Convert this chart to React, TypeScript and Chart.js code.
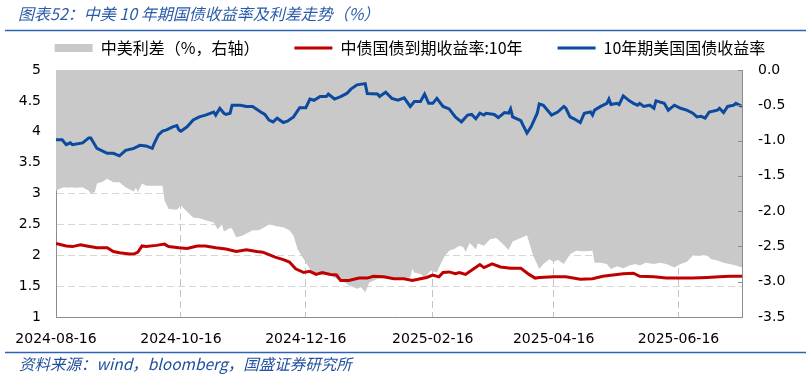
import { useEffect, useRef } from 'react';
import { Chart, registerables } from 'chart.js';

Chart.register(...registerables);

// x values are calendar days counted from 2024-08-16
const xTickDays = [0, 61, 122, 184, 243, 304];
const xTickLabels = ['2024-08-16', '2024-10-16', '2024-12-16', '2025-02-16', '2025-04-16', '2025-06-16'];
const X_MAX = 335;

const usDays = [0, 3, 5, 7, 8, 13, 16, 17, 20, 25, 28, 31, 34, 38, 41, 44, 47, 48, 50, 52, 54, 57, 59, 60, 61, 64, 67, 70, 73, 77, 78, 80, 82, 83, 85, 86, 90, 93, 96, 100, 102, 104, 106, 108, 111, 113, 116, 119, 122, 124, 126, 129, 132, 133, 136, 139, 142, 144, 147, 151, 152, 157, 158, 161, 164, 167, 170, 173, 175, 178, 180, 182, 184, 186, 189, 192, 195, 198, 201, 203, 205, 207, 209, 210, 214, 216, 219, 221, 222, 223, 227, 228, 230, 232, 235, 236, 238, 242, 245, 248, 249, 251, 253, 256, 258, 261, 262, 263, 266, 269, 270, 271, 274, 275, 277, 280, 282, 284, 285, 287, 290, 292, 293, 297, 299, 302, 305, 308, 311, 313, 315, 317, 319, 323, 324, 326, 328, 331, 332, 335];
const usYield = [3.87, 3.87, 3.79, 3.82, 3.79, 3.82, 3.90, 3.90, 3.73, 3.65, 3.65, 3.61, 3.70, 3.73, 3.78, 3.77, 3.73, 3.81, 3.95, 4.01, 4.03, 4.08, 4.10, 4.03, 4.01, 4.08, 4.19, 4.24, 4.27, 4.32, 4.27, 4.38, 4.30, 4.28, 4.30, 4.43, 4.43, 4.41, 4.41, 4.32, 4.28, 4.19, 4.16, 4.22, 4.15, 4.17, 4.24, 4.39, 4.39, 4.53, 4.51, 4.57, 4.57, 4.61, 4.53, 4.57, 4.62, 4.69, 4.76, 4.78, 4.62, 4.61, 4.57, 4.64, 4.54, 4.51, 4.55, 4.41, 4.49, 4.49, 4.61, 4.46, 4.46, 4.54, 4.41, 4.37, 4.24, 4.16, 4.27, 4.28, 4.21, 4.30, 4.27, 4.30, 4.28, 4.23, 4.31, 4.30, 4.37, 4.24, 4.18, 4.11, 3.98, 4.08, 4.30, 4.45, 4.43, 4.27, 4.32, 4.41, 4.38, 4.24, 4.21, 4.15, 4.30, 4.32, 4.27, 4.35, 4.41, 4.46, 4.53, 4.44, 4.46, 4.44, 4.58, 4.50, 4.46, 4.43, 4.46, 4.41, 4.43, 4.38, 4.50, 4.46, 4.35, 4.43, 4.38, 4.35, 4.30, 4.24, 4.25, 4.22, 4.32, 4.35, 4.38, 4.31, 4.41, 4.43, 4.46, 4.41];

const cnDays = [0, 5, 8, 12, 15, 20, 25, 28, 31, 36, 38, 40, 42, 44, 49, 53, 55, 60, 64, 69, 73, 78, 83, 88, 93, 98, 101, 104, 107, 111, 114, 117, 121, 124, 127, 130, 134, 137, 139, 143, 148, 152, 155, 160, 165, 170, 174, 178, 181, 184, 187, 189, 192, 195, 197, 200, 204, 207, 209, 213, 217, 222, 227, 231, 234, 236, 243, 249, 256, 262, 267, 272, 277, 282, 285, 292, 298, 305, 311, 318, 324, 329, 335];
const cnYield = [2.19, 2.15, 2.14, 2.17, 2.15, 2.12, 2.12, 2.06, 2.04, 2.02, 2.02, 2.05, 2.15, 2.14, 2.16, 2.18, 2.14, 2.12, 2.11, 2.15, 2.15, 2.12, 2.10, 2.06, 2.09, 2.06, 2.05, 2.01, 1.97, 1.93, 1.89, 1.78, 1.72, 1.74, 1.69, 1.72, 1.69, 1.68, 1.59, 1.59, 1.63, 1.63, 1.66, 1.65, 1.62, 1.62, 1.59, 1.62, 1.64, 1.68, 1.65, 1.72, 1.73, 1.70, 1.72, 1.69, 1.78, 1.85, 1.80, 1.86, 1.81, 1.79, 1.79, 1.69, 1.63, 1.64, 1.65, 1.65, 1.61, 1.62, 1.66, 1.68, 1.70, 1.71, 1.66, 1.65, 1.63, 1.63, 1.63, 1.64, 1.65, 1.66, 1.66];

const spreadDays = [0, 2, 4, 6, 7, 10, 13, 16, 17, 19, 20, 23, 25, 28, 31, 34, 38, 39, 40, 42, 44, 47, 52, 53, 55, 59, 61, 64, 67, 70, 73, 77, 79, 81, 82, 85, 86, 88, 91, 96, 99, 103, 104, 107, 111, 114, 116, 118, 121, 124, 127, 130, 134, 137, 140, 143, 147, 149, 151, 153, 157, 161, 166, 170, 173, 174, 175, 178, 180, 183, 186, 187, 190, 192, 195, 197, 199, 200, 202, 205, 206, 209, 212, 215, 218, 221, 223, 227, 230, 233, 236, 238, 241, 243, 245, 248, 251, 254, 258, 262, 263, 266, 269, 271, 274, 277, 280, 283, 285, 288, 292, 295, 298, 302, 305, 308, 311, 315, 318, 320, 323, 326, 329, 332, 335];
const spreadVals = [-1.71, -1.68, -1.66, -1.67, -1.66, -1.67, -1.66, -1.71, -1.75, -1.73, -1.61, -1.58, -1.54, -1.59, -1.59, -1.66, -1.72, -1.67, -1.73, -1.61, -1.64, -1.64, -1.64, -1.85, -1.97, -1.98, -1.92, -2.01, -2.09, -2.10, -2.13, -2.16, -2.26, -2.19, -2.29, -2.24, -2.25, -2.37, -2.35, -2.27, -2.27, -2.21, -2.18, -2.21, -2.23, -2.27, -2.35, -2.54, -2.68, -2.82, -2.89, -2.91, -2.91, -2.96, -2.99, -3.05, -3.10, -3.08, -3.15, -3.01, -2.96, -2.95, -2.95, -2.94, -2.94, -2.82, -2.87, -2.89, -2.94, -2.84, -2.87, -2.80, -2.63, -2.56, -2.53, -2.49, -2.51, -2.58, -2.45, -2.54, -2.46, -2.49, -2.40, -2.38, -2.46, -2.55, -2.43, -2.38, -2.34, -2.63, -2.82, -2.75, -2.68, -2.72, -2.69, -2.75, -2.61, -2.56, -2.57, -2.56, -2.73, -2.73, -2.75, -2.82, -2.78, -2.81, -2.77, -2.75, -2.77, -2.73, -2.75, -2.73, -2.75, -2.80, -2.75, -2.72, -2.63, -2.62, -2.63, -2.68, -2.70, -2.73, -2.75, -2.77, -2.80];

const legendLabels = ['中美利差（%，右轴）', '中债国债到期收益率:10年', '10年期美国国债收益率'];
const titleText = '图表52：中美 10 年期国债收益率及利差走势（%）';
const sourceText = '资料来源：wind，bloomberg，国盛证券研究所';

const GRAY = '#C9C9C9';
const RED = '#C00000';
const BLUE = '#0B4A9E';
const AXIS_GRAY = '#8C8C8C';
const TITLE_BLUE = '#2A5BA8';
const RULE_BLUE = '#2E63B3';
const CJK = "'Noto Sans CJK SC', sans-serif";
const TICK_FONT = { family: "'DejaVu Sans', sans-serif", size: 14 };

const pts = (xs: number[], ys: number[]) => xs.map((x, i) => ({ x, y: ys[i] }));

const decor = {
  id: 'decor',
  afterDraw(chart: any) {
    const ctx = chart.ctx as CanvasRenderingContext2D;
    ctx.save();
    ctx.textAlign = 'left';
    ctx.textBaseline = 'middle';
    ctx.fillStyle = TITLE_BLUE;
    ctx.font = `italic 16px ${CJK}`;
    ctx.fillText(titleText, 18, 14);
    ctx.fillStyle = '#1F4F9E';
    ctx.font = `italic 15.5px ${CJK}`;
    ctx.fillText(sourceText, 19, 364);
    ctx.strokeStyle = RULE_BLUE;
    ctx.lineWidth = 1.5;
    ctx.beginPath();
    ctx.moveTo(5, 30.5);
    ctx.lineTo(806, 30.5);
    ctx.moveTo(5, 352.5);
    ctx.lineTo(806, 352.5);
    ctx.stroke();
    // inward tick marks on right axis
    const y2 = chart.scales.y2;
    const r = chart.chartArea.right;
    ctx.strokeStyle = AXIS_GRAY;
    ctx.lineWidth = 1;
    ctx.beginPath();
    y2.ticks.forEach((t: any) => {
      const py = Math.round(y2.getPixelForValue(t.value)) + 0.5;
      ctx.moveTo(r - 4, py);
      ctx.lineTo(r, py);
    });
    ctx.stroke();
    ctx.restore();
  },
};

export default function App() {
  const ref = useRef<HTMLCanvasElement>(null);
  useEffect(() => {
    const chart = new Chart(ref.current as HTMLCanvasElement, {
      type: 'line',
      data: {
        datasets: [
          {
            label: legendLabels[0],
            data: pts(spreadDays, spreadVals),
            yAxisID: 'y2',
            xAxisID: 'x',
            fill: 'end',
            backgroundColor: GRAY,
            borderColor: GRAY,
            borderWidth: 0,
            pointRadius: 0,
            tension: 0,
          },
          {
            label: legendLabels[1],
            data: pts(cnDays, cnYield),
            yAxisID: 'y',
            xAxisID: 'x',
            fill: false,
            borderColor: RED,
            borderWidth: 3,
            pointRadius: 0,
            tension: 0,
          },
          {
            label: legendLabels[2],
            data: pts(usDays, usYield),
            yAxisID: 'y',
            xAxisID: 'x',
            fill: false,
            borderColor: BLUE,
            borderWidth: 3,
            pointRadius: 0,
            tension: 0,
          },
        ],
      } as any,
      options: {
        animation: false,
        responsive: true,
        maintainAspectRatio: false,
        layout: { padding: { top: 5, left: 10, right: 0, bottom: 31 } },
        plugins: {
          filler: { drawTime: 'beforeDatasetsDraw' },
          tooltip: { enabled: false },
          title: {
            display: true,
            text: '',
            position: 'top',
            weight: 500,
            padding: { top: 3, bottom: 0 },
            font: { size: 1, lineHeight: 1 },
          },
          legend: {
            display: true,
            position: 'top',
            align: 'center',
            onClick: () => {},
            labels: {
              usePointStyle: true,
              pointStyleWidth: 38,
              boxWidth: 38,
              boxHeight: 8,
              padding: 35,
              color: '#000',
              font: { family: CJK, size: 16 },
              generateLabels: () => [
                { text: legendLabels[0], fillStyle: GRAY, strokeStyle: GRAY, lineWidth: 0, pointStyle: 'rect', hidden: false, datasetIndex: 0, fontColor: '#000' },
                { text: legendLabels[1], fillStyle: RED, strokeStyle: RED, lineWidth: 3, pointStyle: 'line', hidden: false, datasetIndex: 1, fontColor: '#000' },
                { text: legendLabels[2], fillStyle: BLUE, strokeStyle: BLUE, lineWidth: 3, pointStyle: 'line', hidden: false, datasetIndex: 2, fontColor: '#000' },
              ],
            },
          },
        },
        scales: {
          x: {
            type: 'linear',
            position: 'bottom',
            min: 0,
            max: X_MAX,
            afterBuildTicks: (s: any) => {
              s.ticks = xTickDays.map((v) => ({ value: v }));
            },
            afterFit: (s: any) => {
              s.height = 30;
            },
            ticks: {
              callback: (v: any) => {
                const i = xTickDays.indexOf(Number(v));
                return i >= 0 ? xTickLabels[i] : '';
              },
              autoSkip: false,
              maxRotation: 0,
              minRotation: 0,
              padding: 14,
              color: '#000',
              font: TICK_FONT,
            },
            grid: { display: true, drawTicks: false, color: '#C4C4C4', lineWidth: 1 },
            border: { display: true, color: AXIS_GRAY, width: 1, dash: [7, 4] },
          },
          y: {
            type: 'linear',
            position: 'left',
            min: 1,
            max: 5,
            afterFit: (s: any) => {
              s.width = 46;
            },
            ticks: {
              stepSize: 0.5,
              callback: (v: any) => String(Number(v)),
              padding: 15,
              color: '#000',
              font: TICK_FONT,
            },
            grid: { display: true, drawTicks: false, color: '#D6D6D6', lineWidth: 1 },
            border: { display: true, color: AXIS_GRAY, width: 1, dash: [7, 4] },
          },
          y2: {
            type: 'linear',
            position: 'right',
            min: -3.5,
            max: 0,
            afterFit: (s: any) => {
              s.width = 68;
            },
            ticks: {
              stepSize: 0.5,
              callback: (v: any) => Number(v).toFixed(1),
              padding: 16,
              color: '#000',
              font: TICK_FONT,
            },
            grid: { display: false, drawTicks: false },
            border: { display: true, color: AXIS_GRAY, width: 1 },
          },
        },
      } as any,
      plugins: [decor],
    });
    return () => chart.destroy();
  }, []);
  return (
    <div style={{ position: 'absolute', left: 0, top: 0, width: 810, height: 378 }}>
      <canvas ref={ref} />
    </div>
  );
}
